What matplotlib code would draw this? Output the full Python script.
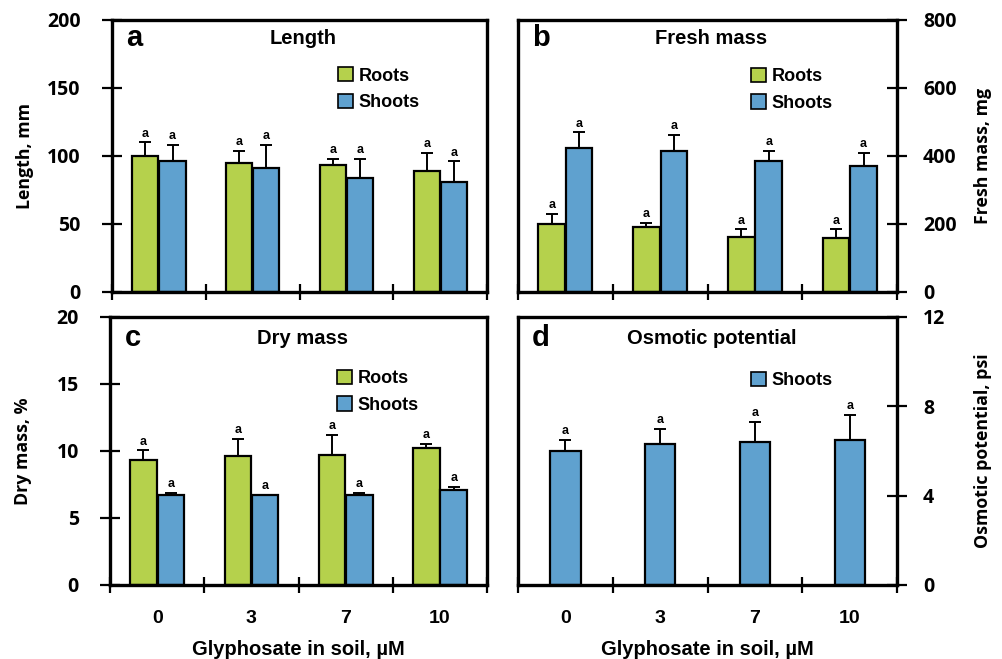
import numpy as np
import matplotlib.pyplot as plt

plt.rcParams['font.family'] = ['Liberation Sans', 'DejaVu Sans']
plt.rcParams['font.weight'] = 'bold'

groups = ['0', '3', '7', '10']

# a: Length, mm
len_roots = [100, 95, 93, 89]
len_roots_err = [10, 9, 5, 13]
len_shoots = [96, 91, 84, 81]
len_shoots_err = [12, 17, 14, 15]

# b: Fresh mass, mg
fm_roots = [200, 190, 163, 160]
fm_roots_err = [30, 14, 21, 24]
fm_shoots = [424, 416, 385, 370]
fm_shoots_err = [45, 46, 31, 40]

# c: Dry mass, %
dm_roots = [9.3, 9.6, 9.7, 10.2]
dm_roots_err = [0.75, 1.3, 1.5, 0.35]
dm_shoots = [6.7, 6.7, 6.7, 7.1]
dm_shoots_err = [0.15, 0.0, 0.15, 0.2]

# d: Osmotic potential, psi
op_shoots = [6.0, 6.3, 6.4, 6.5]
op_shoots_err = [0.5, 0.7, 0.9, 1.1]

green = '#b5d14c'
blue = '#5fa1cf'

fig = plt.figure(figsize=(10.03, 6.59), dpi=100)
ax_a = fig.add_axes([0.1117, 0.557, 0.374, 0.4127])
ax_b = fig.add_axes([0.5165, 0.557, 0.378, 0.4127])
ax_c = fig.add_axes([0.1097, 0.1123, 0.376, 0.4067])
ax_d = fig.add_axes([0.5165, 0.1123, 0.378, 0.4067])

x = np.arange(len(groups))


def bars(ax, pos, vals, errs, color, width):
    ax.bar(pos, vals, width, color=color, edgecolor='black', linewidth=1.6, zorder=2)
    ax.errorbar(pos, vals, yerr=[np.zeros(len(vals)), errs], fmt='none',
                ecolor='black', elinewidth=1.4, capsize=4, capthick=1.4, zorder=3)
    for xi, v, e in zip(pos, vals, errs):
        ax.annotate('a', (xi, v + e), xytext=(0, 2), textcoords='offset points',
                    ha='center', va='bottom', fontsize=9, fontweight='bold')


def style(ax, ymax, yticks, right=False, bottom_labels=False):
    ax.set_xlim(-0.5, 3.5)
    ax.set_ylim(0, ymax)
    ax.set_yticks(yticks)
    ax.set_xticks([-0.5, 0.5, 1.5, 2.5, 3.5])
    ax.set_xticklabels([])
    ax.tick_params(axis='x', direction='inout', length=12, width=1.6)
    ax.tick_params(axis='y', direction='inout', length=14, width=1.6, labelsize=14,
                   labelfontfamily='Open Sans', pad=11.5 if right else 15.5)
    for s in ax.spines.values():
        s.set_linewidth(2.4)
    if right:
        ax.yaxis.tick_right()
        ax.yaxis.set_label_position('right')
    if bottom_labels:
        ax.set_xticks(x, minor=True)
        ax.set_xticklabels(groups, minor=True, fontsize=14, fontweight='bold')
        ax.tick_params(axis='x', which='minor', length=0, pad=18)
        ax.set_xlabel('Glyphosate in soil, µM', fontsize=14.5, fontweight='bold')
        ax.xaxis.set_label_coords(0.5, -0.205)
    for lab in ax.get_yticklabels():
        lab.set_fontweight('bold')


def ylabel(ax, text, xpos):
    ax.set_ylabel(text, fontsize=12.8, fontweight='bold', family='Open Sans',
                  rotation=90, va='center')
    ax.yaxis.set_label_coords(xpos, 0.5)


def legend(ax, handles, anchor):
    ax.legend(handles=handles, loc='upper left', bbox_to_anchor=anchor,
              frameon=False, handlelength=0.85, handleheight=0.85,
              handletextpad=0.3, borderpad=0, labelspacing=0.5,
              prop={'weight': 'bold', 'size': 13})


def panel(ax, letter, title, ty):
    ax.text(0.06, ty, letter, transform=ax.transAxes, fontsize=21,
            fontweight='bold', ha='center', va='center')
    ax.text(0.51, ty, title, transform=ax.transAxes, fontsize=14.5,
            fontweight='bold', ha='center', va='center')


w = 0.28
off = 0.145
h_r = plt.Rectangle((0, 0), 1, 1, facecolor=green, edgecolor='black', linewidth=1.2, label='Roots')
h_s = plt.Rectangle((0, 0), 1, 1, facecolor=blue, edgecolor='black', linewidth=1.2, label='Shoots')

# a
bars(ax_a, x - off, len_roots, len_roots_err, green, w)
bars(ax_a, x + off, len_shoots, len_shoots_err, blue, w)
style(ax_a, 200, [0, 50, 100, 150, 200])
ylabel(ax_a, 'Length, mm', -0.232)
panel(ax_a, 'a', 'Length', 0.932)
legend(ax_a, [h_r, h_s], (0.578, 0.86))

# b
bars(ax_b, x - off, fm_roots, fm_roots_err, green, w)
bars(ax_b, x + off, fm_shoots, fm_shoots_err, blue, w)
style(ax_b, 800, [0, 200, 400, 600, 800], right=True)
ylabel(ax_b, 'Fresh mass, mg', 1.227)
panel(ax_b, 'b', 'Fresh mass', 0.932)
legend(ax_b, [h_r, h_s], (0.59, 0.857))

# c
bars(ax_c, x - off, dm_roots, dm_roots_err, green, w)
bars(ax_c, x + off, dm_shoots, dm_shoots_err, blue, w)
style(ax_c, 20, [0, 5, 10, 15, 20], bottom_labels=True)
ylabel(ax_c, 'Dry mass, %', -0.231)
panel(ax_c, 'c', 'Dry mass', 0.92)
legend(ax_c, [h_r, h_s], (0.578, 0.837))

# d
bars(ax_d, x, op_shoots, op_shoots_err, blue, 0.32)
style(ax_d, 12, [0, 4, 8, 12], right=True, bottom_labels=True)
ylabel(ax_d, 'Osmotic potential, psi', 1.227)
panel(ax_d, 'd', 'Osmotic potential', 0.92)
legend(ax_d, [h_s], (0.591, 0.829))

fig.savefig('out.png', dpi=100)
